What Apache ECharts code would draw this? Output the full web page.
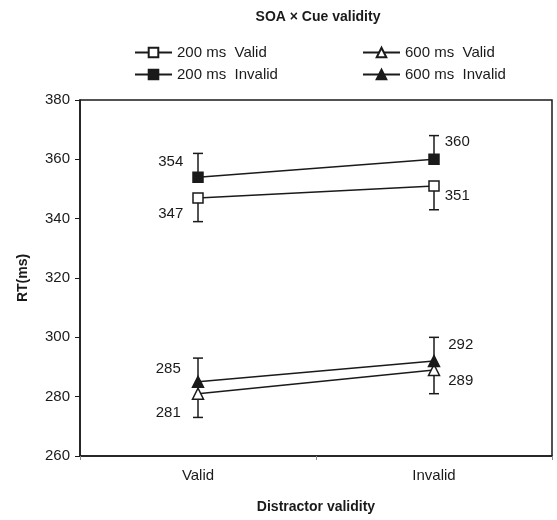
<!DOCTYPE html>
<html><head><meta charset="utf-8">
<script src="https://cdn.jsdelivr.net/npm/echarts@6/dist/echarts.min.js"></script>
<style>html,body{margin:0;padding:0;background:#fff}#c{width:557px;height:520px}</style>
</head><body><div id="c"></div>
<script>
const categories = ['Valid', 'Invalid'];
const v200Valid = [347, 351];
const v200Invalid = [354, 360];
const v600Valid = [281, 289];
const v600Invalid = [285, 292];
const err200Valid = [-8, -8];
const err200Invalid = [8, 8];
const err600Valid = [-8, -8];
const err600Invalid = [8, 8];
const yTicks = [260, 280, 300, 320, 340, 360, 380];

const FONT = '"Liberation Sans", Arial, Helvetica, sans-serif';
const INK = '#1a1a1a';

function withLabels(vals, cfg) {
  return vals.map((v, i) => ({
    value: v,
    label: {
      show: true,
      position: i === 0 ? 'left' : 'right',
      distance: cfg[i][0],
      offset: [0, cfg[i][1]],
      formatter: String(v),
      fontSize: 15, color: INK, fontFamily: FONT
    }
  }));
}

function lineSeries(name, vals, symbol, filled, cfg) {
  return {
    name, type: 'line', data: withLabels(vals, cfg),
    symbol, symbolSize: symbol === 'triangle' ? 11 : 10,
    lineStyle: { color: INK, width: 1.5 },
    itemStyle: { color: filled ? INK : '#fff', borderColor: INK, borderWidth: 1.5 },
    z: 3, animation: false
  };
}

function errSeries(vals, errs) {
  return {
    type: 'custom', silent: true, z: 2, animation: false,
    data: vals.map((v, i) => [i, v, v + errs[i]]),
    renderItem: function (params, api) {
      const p0 = api.coord([api.value(0), api.value(1)]);
      const p1 = api.coord([api.value(0), api.value(2)]);
      const w = 5;
      const st = { stroke: INK, lineWidth: 1.5 };
      return { type: 'group', children: [
        { type: 'line', shape: { x1: p0[0], y1: p0[1], x2: p1[0], y2: p1[1] }, style: st },
        { type: 'line', shape: { x1: p1[0] - w, y1: p1[1], x2: p1[0] + w, y2: p1[1] }, style: st }
      ]};
    }
  };
}

const legendText = { fontSize: 15, color: INK, lineHeight: 12, fontFamily: FONT };

const chart = echarts.init(document.getElementById('c'), null, { renderer: 'canvas' });
chart.setOption({
  backgroundColor: '#fff',
  animation: false,
  textStyle: { fontFamily: FONT },
  title: {
    text: 'SOA × Cue validity', left: 313, top: 5, textAlign: 'center',
    textStyle: { fontSize: 14, fontWeight: 'bold', color: INK, fontFamily: FONT }
  },
  legend: [
    { orient: 'vertical', left: 134, top: 45, itemWidth: 37, itemHeight: 12, itemGap: 7, padding: 0,
      data: ['200 ms  Valid', '200 ms  Invalid'], textStyle: legendText },
    { orient: 'vertical', left: 362, top: 45, itemWidth: 37, itemHeight: 12, itemGap: 7, padding: 0,
      data: ['600 ms  Valid', '600 ms  Invalid'], textStyle: legendText }
  ],
  grid: { left: 80, right: 5, top: 100, bottom: 64, show: true, borderColor: INK, borderWidth: 1.5 },
  xAxis: {
    type: 'category', data: categories, boundaryGap: true,
    name: 'Distractor validity', nameLocation: 'middle', nameGap: 44,
    nameTextStyle: { fontSize: 14, fontWeight: 'bold', color: INK, fontFamily: FONT },
    axisLine: { lineStyle: { color: INK, width: 1.5 } },
    axisTick: { show: true, length: 4, lineStyle: { color: '#888', width: 1 } },
    axisLabel: { fontSize: 15, color: INK, margin: 12, fontFamily: FONT },
    splitLine: { show: false }
  },
  yAxis: {
    type: 'value', min: 260, max: 380, interval: 20,
    name: 'RT(ms)', nameLocation: 'middle', nameGap: 50, nameRotate: 90,
    nameTextStyle: { fontSize: 14, fontWeight: 'bold', color: INK, fontFamily: FONT },
    axisLine: { show: true, lineStyle: { color: INK, width: 1.5 } },
    axisTick: { show: true, length: 5, lineStyle: { color: INK, width: 1 } },
    axisLabel: { fontSize: 15, color: INK, margin: 10, fontFamily: FONT,
      formatter: v => yTicks.includes(v) ? String(v) : '' },
    splitLine: { show: false }
  },
  series: [
    errSeries(v200Valid, err200Valid),
    errSeries(v200Invalid, err200Invalid),
    errSeries(v600Valid, err600Valid),
    errSeries(v600Invalid, err600Invalid),
    lineSeries('200 ms  Valid', v200Valid, 'rect', false, [[9, 16], [5, 10]]),
    lineSeries('200 ms  Invalid', v200Invalid, 'rect', true, [[9, -15], [5, -17]]),
    lineSeries('600 ms  Valid', v600Valid, 'triangle', false, [[11, 19], [8, 11]]),
    lineSeries('600 ms  Invalid', v600Invalid, 'triangle', true, [[11, -13], [8, -16]])
  ]
});
</script></body></html>
